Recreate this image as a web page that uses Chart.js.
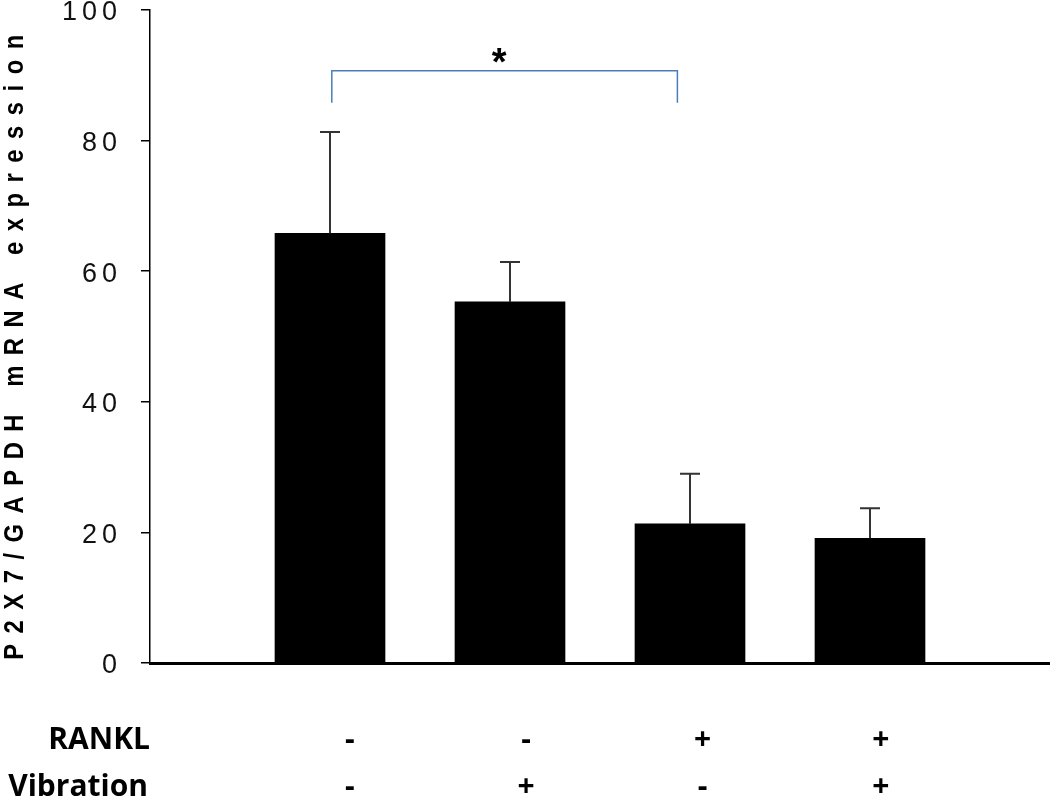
<!DOCTYPE html>
<html>
<head>
<meta charset="utf-8">
<script src="https://cdn.jsdelivr.net/npm/chart.js@4.4.1/dist/chart.umd.min.js"></script>
<style>
  html, body { margin: 0; padding: 0; background: #fff; }
  #wrap { width: 1050px; height: 798px; }
</style>
</head>
<body>
<div id="wrap"><canvas id="chart" width="1050" height="798"></canvas></div>
<script>
// Data
const groups = ['RANKL- / Vib-', 'RANKL- / Vib+', 'RANKL+ / Vib-', 'RANKL+ / Vib+'];
const groupX = [1, 2, 3, 4];
const means = [65.8, 55.3, 21.3, 19.1];
const errors = [15.5, 6.1, 7.7, 4.6];
const yTicks = [0, 20, 40, 60, 80, 100];
const rankl = ['-', '-', '+', '+'];
const vibration = ['-', '+', '-', '+'];
const rowLabelX = [1.11, 2.09, 3.07, 4.06];
const bracketX = [1.01, 2.93];
const bracketY = [85.8, 90.7];
const starPos = [1.94, 92.8];

// Error bars (upper only)
const errorBars = {
    id: 'errorBars',
    afterDatasetsDraw(chart) {
        const ctx = chart.ctx;
        const y = chart.scales.y;
        const meta = chart.getDatasetMeta(0);
        ctx.save();
        ctx.strokeStyle = '#333';
        ctx.lineWidth = 2;
        meta.data.forEach((bar, i) => {
            const top = y.getPixelForValue(means[i] + errors[i]);
            ctx.beginPath();
            ctx.moveTo(bar.x, bar.y);
            ctx.lineTo(bar.x, top);
            ctx.moveTo(bar.x - 10, top);
            ctx.lineTo(bar.x + 10, top);
            ctx.stroke();
        });
        ctx.restore();
    }
};

// Spaced digits on the y axis
const spacing = {
    id: 'spacing',
    beforeDraw(chart) { chart.ctx.letterSpacing = '5px'; },
    beforeDatasetsDraw(chart) { chart.ctx.letterSpacing = '0px'; }
};

// Title, bracket, star and the condition rows
const annotations = {
    id: 'annotations',
    afterDraw(chart) {
        const ctx = chart.ctx;
        const x = chart.scales.x;
        const y = chart.scales.y;
        ctx.save();
        ctx.letterSpacing = '0px';

        // significance bracket
        const x1 = x.getPixelForValue(bracketX[0]);
        const x2 = x.getPixelForValue(bracketX[1]);
        const yLow = y.getPixelForValue(bracketY[0]);
        const yHigh = y.getPixelForValue(bracketY[1]);
        ctx.strokeStyle = '#4a7ebb';
        ctx.lineWidth = 1.5;
        ctx.beginPath();
        ctx.moveTo(x1, yLow);
        ctx.lineTo(x1, yHigh);
        ctx.lineTo(x2, yHigh);
        ctx.lineTo(x2, yLow);
        ctx.stroke();

        ctx.fillStyle = '#000';
        ctx.font = 'bold 38px "Liberation Sans"';
        ctx.textAlign = 'center';
        ctx.textBaseline = 'middle';
        ctx.fillText('*', x.getPixelForValue(starPos[0]), y.getPixelForValue(starPos[1]) + 7);

        // rows under the axis
        ctx.textBaseline = 'alphabetic';
        ctx.font = 'bold 30px "Open Sans"';
        ctx.textAlign = 'right';
        ctx.fillText('RANKL', 150, 749);
        ctx.fillText('Vibration', 148, 796);
        ctx.textAlign = 'center';
        rowLabelX.forEach((v, i) => {
            const px = x.getPixelForValue(v);
            ctx.fillText(rankl[i], px, 749);
            ctx.fillText(vibration[i], px, 796);
        });

        // y axis title, narrow and spaced
        const title = 'P2X7/GAPDH mRNA expression';
        const squeeze = 0.85;
        ctx.font = 'bold 28px "Liberation Sans"';
        const w0 = ctx.measureText(title).width;
        ctx.letterSpacing = ((625 / squeeze - w0) / (title.length - 1)).toFixed(2) + 'px';
        ctx.translate(23, 342);
        ctx.rotate(-Math.PI / 2);
        ctx.scale(squeeze, 1);
        ctx.textAlign = 'center';
        ctx.fillText(title, 0, 0);
        ctx.restore();
    }
};

new Chart(document.getElementById('chart'), {
    type: 'bar',
    data: {
        labels: groups,
        datasets: [{
            label: 'P2X7/GAPDH',
            data: groupX.map((gx, i) => ({ x: gx, y: means[i] })),
            backgroundColor: '#000',
            borderWidth: 0,
            barThickness: 110
        }]
    },
    options: {
        responsive: false,
        animation: false,
        layout: { padding: { top: 10, right: 0, bottom: 0, left: 0 } },
        plugins: {
            legend: { display: false },
            tooltip: { enabled: false }
        },
        scales: {
            x: {
                type: 'linear',
                min: 0,
                max: 5,
                offset: false,
                ticks: { display: false },
                grid: { drawOnChartArea: false, drawTicks: false },
                border: { color: '#000', width: 3 },
                afterFit(scale) {
                    scale.height = 135;
                    scale.paddingLeft = 0;
                    scale.paddingRight = 0;
                }
            },
            y: {
                min: 0,
                max: 100,
                afterBuildTicks(scale) { scale.ticks = yTicks.map(v => ({ value: v })); },
                ticks: {
                    color: '#111',
                    padding: 19,
                    // empty first line nudges each label a few pixels down
                    callback: (v) => ['', String(v)],
                    font: { family: '"Liberation Sans"', size: 27, lineHeight: 0.22 }
                },
                grid: { drawOnChartArea: false, drawTicks: true, tickLength: 9, color: '#000', lineWidth: 1.5 },
                border: { color: '#000', width: 1.5 },
                afterFit(scale) {
                    scale.width = 150;
                    scale.paddingTop = 0;
                    scale.paddingBottom = 0;
                }
            }
        }
    },
    plugins: [spacing, errorBars, annotations]
});
</script>
</body>
</html>
